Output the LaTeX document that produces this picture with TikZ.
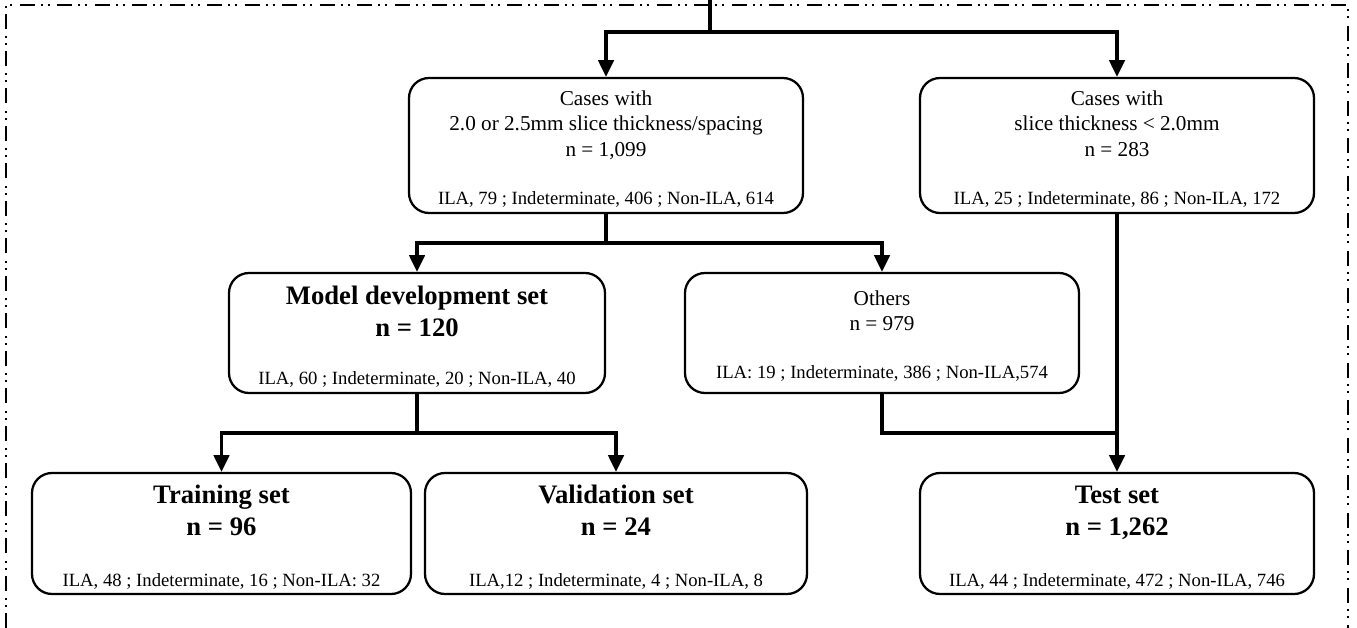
\documentclass[tikz,border=0pt]{standalone}
\usepackage{fontspec}
\setmainfont{Liberation Serif}
\usetikzlibrary{arrows.meta,calc}
\tikzset{
  box/.style={draw, line width=1.7pt, rounded corners=15pt, inner sep=0pt, minimum height=#1*0.75pt},
  conn/.style={line width=2.4pt},
  arr/.style={-{Triangle[length=12.5pt,width=11.5pt]}},
  frame/.style={line width=1.6pt, dash pattern=on 11.25pt off 4.5pt on 1.5pt off 3.75pt on 1.5pt off 5.6pt},
  tl/.style={anchor=base, inner sep=0pt, font=\fontsize{15.9}{19}\selectfont},
  sl/.style={anchor=base, inner sep=0pt, font=\fontsize{14}{17}\selectfont},
  bl/.style={anchor=base, inner sep=0pt, font=\fontsize{20}{24}\selectfont\bfseries},
}
\begin{document}
\begin{tikzpicture}[x=0.75pt,y=-0.75pt]
\useasboundingbox (0,0) rectangle (1357,628);
\fill[white] (0,0) rectangle (1357,628);
% frame
\draw[frame] (6,628) -- (6,5) -- (1348,5) -- (1348,628);
% boxes
\node[box=135, minimum width=295.5pt] (b1) at (606,145.5) {};
\node[box=135, minimum width=295.5pt] (b2) at (1117,145.5) {};
\node[box=120, minimum width=282pt] (b3) at (417,333) {};
\node[box=120, minimum width=295.5pt] (b4) at (882,333) {};
\node[box=121, minimum width=284.25pt] (b5) at (221.5,533.5) {};
\node[box=121, minimum width=286.5pt] (b6) at (616,533.5) {};
\node[box=121, minimum width=295.5pt] (b7) at (1117,533.5) {};
% texts
\node[tl] (t1a) at (606,105) {Cases with};
\node[tl] (t1b) at (606,130.5) {2.0 or 2.5mm slice thickness/spacing};
\node[tl] (t1c) at (606,156) {n = 1,099};
\node[sl] (t1d) at (606,204) {ILA, 79 ; Indeterminate, 406 ; Non-ILA, 614};
\node[tl] (t2a) at (1117,105) {Cases with};
\node[tl] (t2b) at (1117,130.5) {slice thickness < 2.0mm};
\node[tl] (t2c) at (1117,156) {n = 283};
\node[sl] (t2d) at (1117,204) {ILA, 25 ; Indeterminate, 86 ; Non-ILA, 172};
\node[bl] (t3a) at (417,304) {Model development set};
\node[bl] (t3b) at (417,336) {n = 120};
\node[sl] (t3c) at (417,384) {ILA, 60 ; Indeterminate, 20 ; Non-ILA, 40};
\node[tl] (t4a) at (882,305) {Others};
\node[tl] (t4b) at (882,330) {n = 979};
\node[sl] (t4c) at (882,378) {ILA: 19 ; Indeterminate, 386 ; Non-ILA,574};
\node[bl] (t5a) at (221.5,503) {Training set};
\node[bl] (t5b) at (221.5,535) {n = 96};
\node[sl] (t5c) at (221.5,586) {ILA, 48 ; Indeterminate, 16 ; Non-ILA: 32};
\node[bl] (t6a) at (616,503) {Validation set};
\node[bl] (t6b) at (616,535) {n = 24};
\node[sl] (t6c) at (616,586) {ILA,12 ; Indeterminate, 4 ; Non-ILA, 8};
\node[bl] (t7a) at (1117,503) {Test set};
\node[bl] (t7b) at (1117,535) {n = 1,262};
\node[sl] (t7c) at (1117,586) {ILA, 44 ; Indeterminate, 472 ; Non-ILA, 746};
% connectors
\coordinate (top) at (710,0);
\coordinate (s1) at (710,32);
\coordinate (s2) at (606,243);
\coordinate (s3) at (417,433);
\coordinate (s4) at (1117,433);
\draw[conn] (top) -- (s1);
\draw[conn,arr] (s1) -| (b1.north);
\draw[conn,arr] (s1) -| (b2.north);
\draw[conn] (b1.south) -- (s2);
\draw[conn,arr] (s2) -| (b3.north);
\draw[conn,arr] (s2) -| (b4.north);
\draw[conn] (b3.south) -- (s3);
\draw[conn,arr] (s3) -| (b5.north);
\draw[conn,arr] (s3) -| (b6.north);
\draw[conn] (b4.south) |- (s4);
\draw[conn,arr] (b2.south) -- (b7.north);
\end{tikzpicture}
\end{document}
